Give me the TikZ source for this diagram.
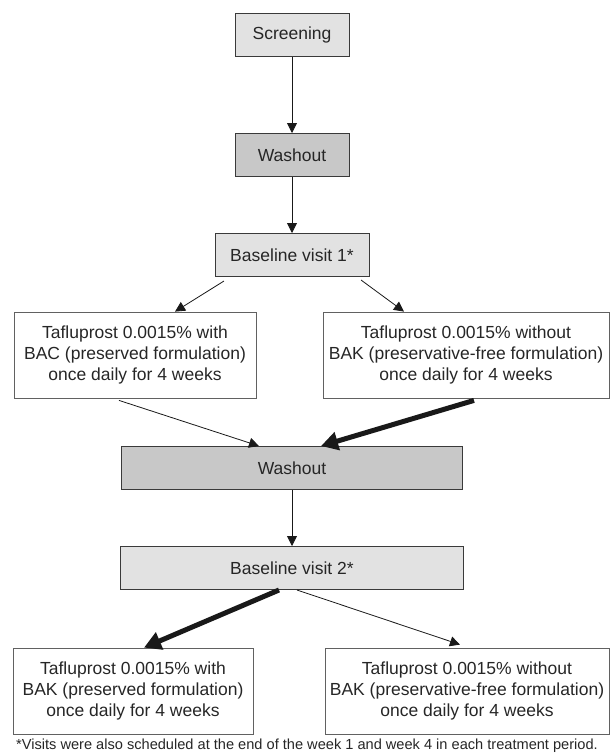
\documentclass[tikz,border=0pt]{standalone}
\usepackage{fontspec}
\setmainfont{Liberation Sans}
\usetikzlibrary{arrows.meta}
\definecolor{lightbox}{HTML}{E2E2E2}
\definecolor{darkbox}{HTML}{C8C8C8}
\definecolor{edge}{HTML}{3A3A3A}
\begin{document}
\begin{tikzpicture}[x=1pt, y=1pt, node distance=100pt, font=\fontsize{17.5}{21}\selectfont]
        \tikzstyle{stage} = [rectangle, draw=edge, line width=1pt, minimum height=43pt, align=center, text=black!85]
        \tikzstyle{treat} = [rectangle, draw=edge!80, line width=0.8pt, minimum height=86pt, align=center, text=black!85]
        \tikzstyle{arrow} = [-{Triangle[length=10pt,width=10pt]}, line width=0.8pt, black!90]
        \tikzstyle{boldarrow} = [-{Triangle[length=17pt,width=18pt]}, line width=5pt, black!90]

        \useasboundingbox (0,0) rectangle (611,-755);

        \node (screening) [stage, fill=lightbox, minimum width=114pt] at (292,-35) {Screening};
        \node (washout1) [stage, fill=darkbox, minimum width=114pt, node distance=120pt, below of=screening] {Washout};
        \node (baseline1) [stage, fill=lightbox, minimum width=154pt, below of=washout1] {Baseline visit 1*};
        \node (preserved1) [treat, minimum width=242pt, below of=baseline1, xshift=-157pt] {Tafluprost 0.0015\% with\\BAC (preserved formulation)\\once daily for 4 weeks};
        \node (free1) [treat, minimum width=286pt, below of=baseline1, xshift=174pt] {Tafluprost 0.0015\% without\\BAK (preservative-free formulation)\\once daily for 4 weeks};
        \node (washout2) [stage, fill=darkbox, minimum width=341pt, node distance=213pt, below of=baseline1] {Washout};
        \node (baseline2) [stage, fill=lightbox, minimum width=343pt, below of=washout2] {Baseline visit 2*};
        \node (preserved2) [treat, minimum width=240pt, node distance=123pt, below of=baseline2, xshift=-159pt] {Tafluprost 0.0015\% with\\BAK (preserved formulation)\\once daily for 4 weeks};
        \node (free2) [treat, minimum width=284pt, node distance=123pt, below of=baseline2, xshift=175pt] {Tafluprost 0.0015\% without\\BAK (preservative-free formulation)\\once daily for 4 weeks};
        \node (note) [node distance=178pt, below of=baseline2, xshift=15pt, font=\fontsize{14.6}{16}\selectfont, text=black!85] {*Visits were also scheduled at the end of the week 1 and week 4 in each treatment period.};

        \draw[arrow] (screening) -- (washout1);
        \draw[arrow] (washout1) -- (baseline1);
        \draw[arrow] ([xshift=-68pt,yshift=-4pt]baseline1.south) -- ([xshift=40pt]preserved1.north);
        \draw[arrow] ([xshift=69pt,yshift=-3pt]baseline1.south) -- ([xshift=-62pt]free1.north);
        \draw[arrow] ([xshift=-16pt,yshift=-2pt]preserved1.south) -- ([xshift=-33pt]washout2.north);
        \draw[boldarrow] ([xshift=8pt,yshift=-2pt]free1.south) -- ([xshift=29pt]washout2.north);
        \draw[arrow] (washout2) -- (baseline2);
        \draw[boldarrow] ([xshift=-13pt]baseline2.south) -- ([xshift=11pt]preserved2.north);
        \draw[arrow] ([xshift=5pt]baseline2.south) -- ([xshift=-7pt,yshift=3pt]free2.north);
    \end{tikzpicture}
\end{document}
